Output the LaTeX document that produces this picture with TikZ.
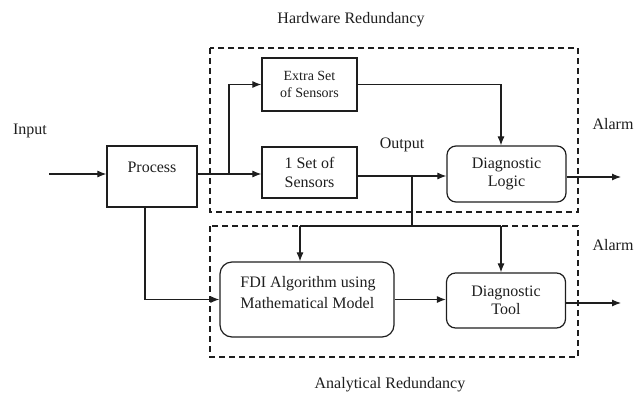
\documentclass[tikz,border=0pt]{standalone}
\usepackage{fontspec}
\setmainfont{Liberation Serif}
\usetikzlibrary{arrows.meta}
\definecolor{ink}{RGB}{30,30,30}
\begin{document}
\begin{tikzpicture}[x=1pt,y=-1pt,
  every node/.style={text=ink,font=\fontsize{16}{18.5}\selectfont},
  box/.style={draw=ink,line width=1.2pt,rectangle,inner sep=0pt},
  rbox/.style={box,rounded corners=9pt},
  arr/.style={draw=ink,line width=1.1pt,-{Latex[length=9pt,width=7pt]}},
  ln/.style={draw=ink,line width=1.1pt},
  dbox/.style={draw=ink,line width=1.1pt,dash pattern=on 6pt off 4pt},
  small/.style={font=\fontsize{14}{17}\selectfont}]
\useasboundingbox (0,0) rectangle (636,399);
% dashed regions
\draw[dbox] (210,48) rectangle (578,212);
\draw[dbox] (210,226) rectangle (578,357);
% titles
\node (hwtitle) at (351,20) {Hardware Redundancy};
\node (antitle) at (390,385) {Analytical Redundancy};
% blocks
\node[box,minimum width=90,minimum height=61] (process) at (152,176.5) {};
\node (processtext) at (152,167) {Process};
\node[box,small,minimum width=95,minimum height=53,align=center] (extra) at (309.5,84.5) {Extra Set\\of Sensors};
\node[box,minimum width=95,minimum height=51,align=center] (oneset) at (309.5,172.5) {1 Set of\\Sensors};
\node[rbox,minimum width=119,minimum height=56,align=center] (logic) at (506.5,174) {Diagnostic\\Logic};
\node[rbox,rounded corners=12pt,minimum width=174,minimum height=75] (fdi) at (307,299.5) {};
\node[align=left,font=\fontsize{16}{21}\selectfont] (fditext) at (308,292.5) {FDI Algorithm using\\Mathematical Model};
\node[rbox,minimum width=119,minimum height=55,align=center] (tool) at (506,300.5) {Diagnostic\\Tool};
% labels
\node (input) at (30,131) {Input};
\node (output) at (402,145) {Output};
\node (alarm1) at (613,124) {Alarm};
\node (alarm2) at (613,245) {Alarm};
% coordinates
\coordinate (in) at (49,174);
\coordinate (split) at (229,174);
\coordinate (lcol) at (501,0);
\coordinate (b1) at (412,176);
\coordinate (b2) at (412,226);
\coordinate (hl) at (300,226);
\coordinate (hr) at (501,226);
\coordinate (pv) at (145,0);
\coordinate (a1) at (621,177);
\coordinate (a2) at (621,303);
% connectors
\draw[arr] (in) -- (in -| process.west);
\draw[ln] (process.east |- split) -- (split);
\draw[arr] (split) -- (split -| oneset.west);
\draw[arr] (split) |- (extra.west);
\draw[arr] (extra.east) -| (lcol |- logic.north);
\draw[arr] (oneset.east |- b1) -- (b1 -| logic.west);
\draw[ln] (b1) -- (b2);
\draw[ln] (hl) -- (hr);
\draw[arr] (hl) -- (hl |- fdi.north);
\draw[arr] (hr) -- (hr |- tool.north);
\draw[arr] (pv |- process.south) |- (fdi.west);
\draw[arr] (fdi.east) -- (fdi.east -| tool.west);
\draw[arr] (logic.east |- a1) -- (a1);
\draw[arr] (tool.east |- a2) -- (a2);
\end{tikzpicture}
\end{document}
